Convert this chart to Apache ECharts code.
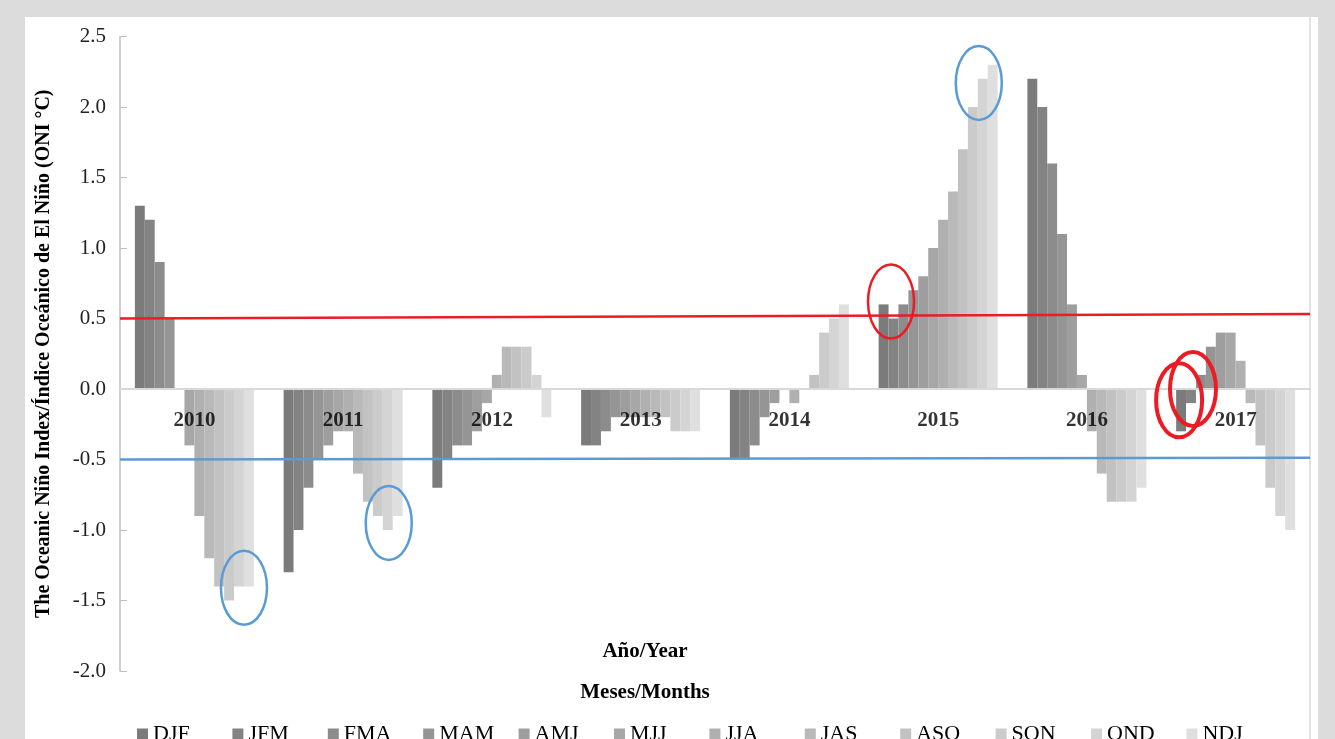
<!DOCTYPE html>
<html>
<head>
<meta charset="utf-8">
<script src="https://cdn.jsdelivr.net/npm/echarts@6/dist/echarts.min.js"></script>
<style>
  html, body { margin: 0; padding: 0; width: 1335px; height: 739px; background: #dcdcdc; overflow: hidden; }
  #chart { position: absolute; left: 25px; top: 17px; width: 1293px; height: 722px; background: #ffffff; }
</style>
</head>
<body>
<div id="chart"></div>
<script>
// ---- Data ----
const years = ['2010', '2011', '2012', '2013', '2014', '2015', '2016', '2017'];
const seasons = ['DJF', 'JFM', 'FMA', 'MAM', 'AMJ', 'MJJ', 'JJA', 'JAS', 'ASO', 'SON', 'OND', 'NDJ'];

const oni2010 = [1.3, 1.2, 0.9, 0.5, 0.0, -0.4, -0.9, -1.2, -1.4, -1.5, -1.4, -1.4];
const oni2011 = [-1.3, -1.0, -0.7, -0.5, -0.4, -0.3, -0.3, -0.6, -0.8, -0.9, -1.0, -0.9];
const oni2012 = [-0.7, -0.5, -0.4, -0.4, -0.3, -0.1, 0.1, 0.3, 0.3, 0.3, 0.1, -0.2];
const oni2013 = [-0.4, -0.4, -0.3, -0.2, -0.2, -0.2, -0.2, -0.2, -0.2, -0.3, -0.3, -0.3];
const oni2014 = [-0.5, -0.5, -0.4, -0.2, -0.1, 0.0, -0.1, 0.0, 0.1, 0.4, 0.5, 0.6];
const oni2015 = [0.6, 0.5, 0.6, 0.7, 0.8, 1.0, 1.2, 1.4, 1.7, 2.0, 2.2, 2.3];
const oni2016 = [2.2, 2.0, 1.6, 1.1, 0.6, 0.1, -0.3, -0.6, -0.8, -0.8, -0.8, -0.7];
const oni2017 = [-0.3, -0.1, 0.1, 0.3, 0.4, 0.4, 0.2, -0.1, -0.4, -0.7, -0.9, -1.0];

// threshold lines (start value, end value across the plot)
const elNinoLine = [0.5, 0.532];
const laNinaLine = [-0.5, -0.487];

// y axis ticks
const yMin = -2.0, yMax = 2.5, yStep = 0.5;

// annotation ellipses: [year index, bar position within group (series index), value]
const blueMarks = [[0, 10.5, -1.41], [1, 10.1, -0.95], [5, 9.6, 2.17]];
const redMarks = [[5, 0.75, 0.62]];
const redBoldMarks = [[7, -0.2, -0.08], [7, 1.2, 0.0]];

// ---- Styles ----
const colors = ['#7b7b7b', '#838383', '#8c8c8c', '#959595', '#9e9e9e', '#a7a7a7',
                '#b0b0b0', '#b9b9b9', '#c2c2c2', '#cbcbcb', '#d4d4d4', '#dfdfdf'];
const serif = '"Liberation Serif", "Times New Roman", serif';

const byYear = [oni2010, oni2011, oni2012, oni2013, oni2014, oni2015, oni2016, oni2017];

const barSeries = seasons.map((s, i) => ({
  name: s,
  type: 'bar',
  xAxisIndex: 0,
  yAxisIndex: 0,
  barGap: '0%',
  barCategoryGap: '20%',
  itemStyle: { color: colors[i] },
  emphasis: { disabled: true },
  data: byYear.map(arr => arr[i])
}));

const lineSeries = [
  { data: elNinoLine, color: '#ec1c24' },
  { data: laNinaLine, color: '#5b9bd5' }
].map(l => ({
  type: 'line',
  xAxisIndex: 1,
  yAxisIndex: 0,
  symbol: 'none',
  silent: true,
  z: 5,
  lineStyle: { color: l.color, width: 2.5 },
  data: [[0, l.data[0]], [1, l.data[1]]]
}));

// year labels sitting just under the zero line of each group
const yearLabelSeries = {
  type: 'scatter',
  xAxisIndex: 0,
  yAxisIndex: 0,
  symbolSize: 0,
  silent: true,
  z: 10,
  label: {
    show: true,
    position: 'bottom',
    distance: 21,
    formatter: p => years[p.dataIndex],
    fontFamily: serif, fontSize: 21, fontWeight: 'bold', color: '#000'
  },
  data: years.map((y, i) => [i, 0])
};

// one legend box per season, evenly spaced like the original
const legends = seasons.map((s, i) => ({
  data: [s],
  left: 112 + i * 95.4,
  top: 706,
  padding: 0,
  itemWidth: 11,
  itemHeight: 11,
  icon: 'rect',
  selectedMode: false,
  textStyle: { fontFamily: serif, fontSize: 22, color: '#000' }
}));

const chart = echarts.init(document.getElementById('chart'));

chart.setOption({
  animation: false,
  grid: { left: 95, right: 8, top: 19.5, bottom: 68, containLabel: false },
  legend: legends,
  xAxis: [
    {
      type: 'category',
      data: years,
      z: 6,
      axisLine: { onZero: true, lineStyle: { color: '#d9d9d9', width: 2 } },
      axisTick: { show: false },
      axisLabel: { show: false },
      splitLine: { show: false }
    },
    { type: 'value', min: 0, max: 1, show: false }
  ],
  yAxis: {
    type: 'value',
    min: yMin,
    max: yMax,
    interval: yStep,
    name: 'The Oceanic Niño Index/Índice Oceánico de El Niño (ONI °C)',
    nameLocation: 'middle',
    nameGap: 66,
    nameTextStyle: { fontFamily: serif, fontSize: 20, fontWeight: 'bold', color: '#000' },
    axisLine: { show: true, lineStyle: { color: '#bfbfbf', width: 1.5 } },
    axisTick: { show: true, inside: true, length: 7, lineStyle: { color: '#bfbfbf' } },
    axisLabel: { fontFamily: serif, fontSize: 21, color: '#222', margin: 14, formatter: v => v.toFixed(1) },
    splitLine: { show: false }
  },
  series: barSeries.concat(lineSeries).concat([yearLabelSeries])
});

// Build annotations positioned from data coordinates
function place(marks, color, width) {
  const c0 = chart.convertToPixel({ xAxisIndex: 0, yAxisIndex: 0 }, [0, 0]);
  const c1 = chart.convertToPixel({ xAxisIndex: 0, yAxisIndex: 0 }, [1, 0]);
  const band = c1[0] - c0[0];
  const barW = band * 0.8 / seasons.length;
  return marks.map(m => {
    const p = chart.convertToPixel({ xAxisIndex: 0, yAxisIndex: 0 }, [m[0], m[2]]);
    return {
      type: 'ellipse',
      z: 100,
      silent: true,
      shape: { cx: p[0] + (m[1] - 5.5) * barW, cy: p[1], rx: 23, ry: 37 },
      style: { fill: 'none', stroke: color, lineWidth: width }
    };
  });
}

const graphics = []
  .concat(place(blueMarks, '#5b9bd5', 2.5))
  .concat(place(redMarks, '#ec1c24', 2.5))
  .concat(place(redBoldMarks, '#ec1c24', 4))
  .concat([
    { type: 'line', z: 1, silent: true, shape: { x1: 1285, y1: 0, x2: 1285, y2: 722 }, style: { stroke: '#d9d9d9', lineWidth: 1.5 } },
    { type: 'text', z: 100, silent: true, x: 620, y: 635,
      style: { text: 'Año/Year', fontFamily: serif, fontSize: 21, fontWeight: 'bold', fill: '#000', align: 'center', verticalAlign: 'middle' } },
    { type: 'text', z: 100, silent: true, x: 620, y: 676,
      style: { text: 'Meses/Months', fontFamily: serif, fontSize: 21, fontWeight: 'bold', fill: '#000', align: 'center', verticalAlign: 'middle' } }
  ]);

chart.setOption({ graphic: graphics });
</script>
</body>
</html>
